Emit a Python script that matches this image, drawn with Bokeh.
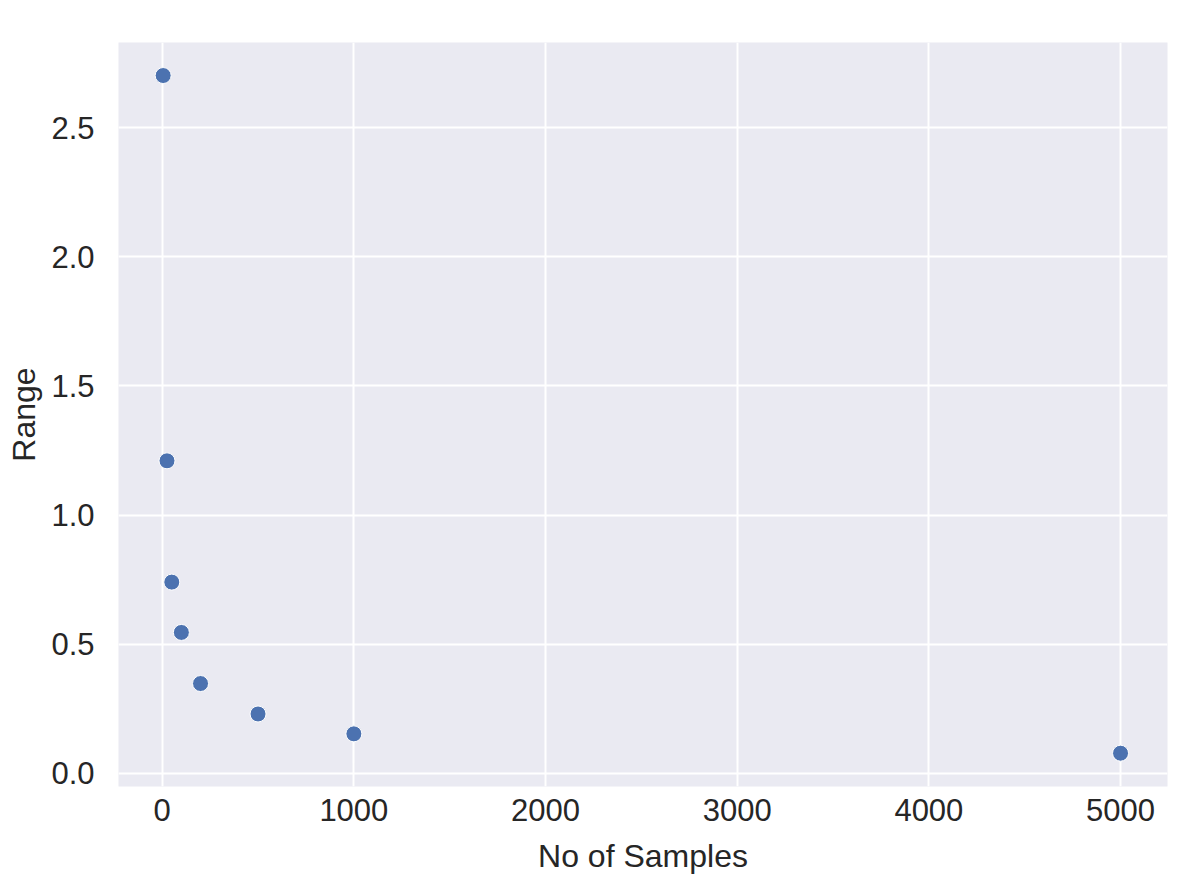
from bokeh.plotting import figure
from bokeh.models import Range1d, FixedTicker, ColumnDataSource, CustomJSTickFormatter
from bokeh.embed import file_html
from bokeh.resources import INLINE

samples = [5, 25, 50, 100, 200, 500, 1000, 5000]
ranges = [2.703, 1.210, 0.740, 0.545, 0.347, 0.229, 0.152, 0.077]
x_ticks = [0, 1000, 2000, 3000, 4000, 5000]
y_ticks = [0.0, 0.5, 1.0, 1.5, 2.0, 2.5]

src = ColumnDataSource(dict(x=samples, y=ranges))

p = figure(width=1184, height=876, output_backend="svg", toolbar_location=None,
           x_range=Range1d(-228, 5245), y_range=Range1d(-0.052, 2.831),
           min_border_left=118, min_border_right=17, min_border_top=42, min_border_bottom=90)

p.background_fill_color = "#EAEAF2"
p.border_fill_color = "white"
p.outline_line_color = None

p.scatter("x", "y", source=src, size=16, fill_color="#4C72B0", line_color="white", line_width=1)

p.xaxis.ticker = FixedTicker(ticks=x_ticks)
p.yaxis.ticker = FixedTicker(ticks=y_ticks)
p.yaxis.formatter = CustomJSTickFormatter(code="return tick.toFixed(1);")

for ax in (p.xaxis, p.yaxis):
    ax.axis_line_color = None
    ax.major_tick_line_color = None
    ax.minor_tick_line_color = None
    ax.major_tick_out = 0
    ax.major_tick_in = 0
    ax.minor_tick_out = 0
    ax.major_label_text_font = "Liberation Sans"
    ax.major_label_text_font_size = "31px"
    ax.major_label_text_color = "#262626"
    ax.axis_label_text_font = "Liberation Sans"
    ax.axis_label_text_font_size = "32px"
    ax.axis_label_text_font_style = "normal"
    ax.axis_label_text_color = "#262626"

p.xaxis.axis_label = "No of Samples"
p.yaxis.axis_label = "Range"
p.xaxis.major_label_standoff = 12
p.yaxis.major_label_standoff = 24
p.xaxis.axis_label_standoff = 14
p.yaxis.axis_label_standoff = 6

p.grid.grid_line_color = "white"
p.grid.grid_line_width = 2

open("out.html", "w").write(file_html(p, INLINE))
